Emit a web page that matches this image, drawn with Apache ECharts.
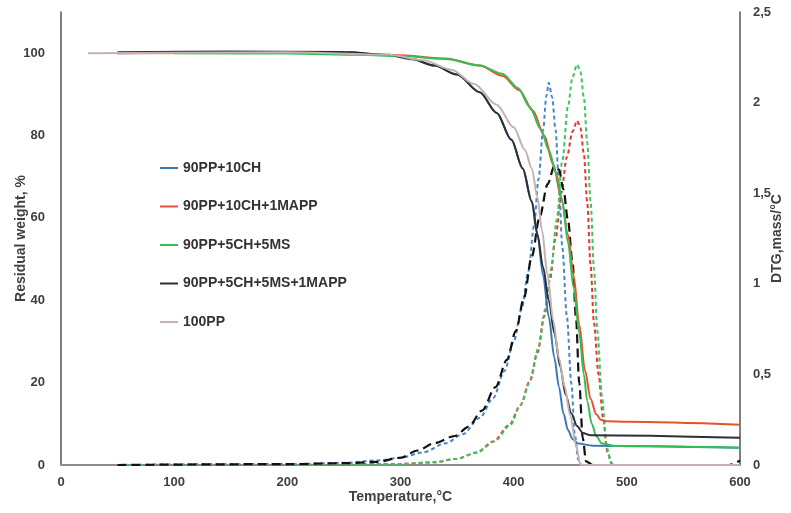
<!DOCTYPE html>
<html><head><meta charset="utf-8">
<script src="https://cdn.jsdelivr.net/npm/echarts@6/dist/echarts.min.js"></script>
<style>html,body{margin:0;padding:0;background:#fff}#c{width:791px;height:513px}</style>
</head><body><div id="c"></div>
<script>
const names = ['90PP+10CH','90PP+10CH+1MAPP','90PP+5CH+5MS','90PP+5CH+5MS+1MAPP','100PP'];
const xTicks = [0,100,200,300,400,500,600];
// TG curves [temperature °C, residual weight %]
const tgBlue = [[50,100],[150,100.2],[250,100.2],[290,99.5],[310,98.5],[330,97],[350,94.8],[370,90.5],[385,85.5],[398,79],[408,72],[416,64],[421,56],[426,46],[431,36],[436,26],[440,19],[444,12.5],[448,8.5],[452,6.3],[457,5.2],[470,4.7],[600,4.2]];
const tgRed = [[50,100],[200,100.1],[300,99.5],[340,98.7],[370,97],[390,94.5],[405,91],[417,86],[427,80],[435,73],[442,65],[448,56],[453,46],[458,34],[463,23],[468,16],[473,12.3],[477,11],[482,10.6],[500,10.5],[600,9.8]];
const tgGreen = [[100,100],[200,99.9],[264,99.6],[300,99.3],[340,98.6],[370,97],[390,95],[404,91.5],[414,87],[424,81.5],[431,76.5],[438,70.5],[443,64],[448,54],[453,43],[458,32],[462,22],[465,15.5],[469,10],[473,7],[478,5.2],[490,4.6],[600,4.2]];
const tgBlack = [[50,100.2],[150,100.4],[250,100.3],[290,99.6],[310,98.6],[330,97],[350,94.8],[370,90.5],[385,85.5],[398,79],[408,72],[416,64],[421,56],[426,48],[431,40],[436,32],[441,24],[446,17],[451,12.5],[456,9.5],[461,7.8],[468,7.2],[600,6.6]];
const tgGray = [[24,100],[100,100.1],[200,100.2],[290,99.6],[320,98.3],[345,96],[365,92.5],[385,87.5],[400,82],[410,76.5],[416,72],[421,65],[425,57],[430,46],[435,35],[440,26],[445,19],[450,12],[455,5],[459,0],[600,0]];
// DTG curves [temperature °C, DTG mass/°C]
const dtgBlue = [[50,0],[200,0.004],[250,0.012],[280,0.025],[300,0.04],[320,0.07],[340,0.12],[355,0.17],[370,0.26],[382,0.37],[392,0.52],[400,0.68],[407,0.86],[413,1.07],[418,1.32],[422,1.58],[426,1.85],[429,2.04],[431,2.11],[434,2.03],[437,1.85],[440,1.55],[443,1.2],[447,0.82],[451,0.45],[454,0.17],[457,0.03],[460,0],[600,0]];
const dtgRed = [[50,0],[250,0.003],[300,0.006],[330,0.015],[350,0.035],[367,0.068],[382,0.13],[396,0.22],[406,0.33],[414,0.46],[421,0.62],[427,0.82],[432,1.02],[437,1.25],[442,1.5],[447,1.7],[452,1.84],[456,1.9],[459,1.86],[462,1.72],[465,1.45],[468,1.1],[471,0.78],[475,0.5],[479,0.26],[483,0.07],[487,0.005],[490,0],[600,0]];
const dtgGreen = [[50,0],[300,0.005],[330,0.015],[350,0.035],[368,0.07],[383,0.13],[397,0.22],[406,0.33],[415,0.47],[422,0.65],[428,0.86],[433,1.08],[438,1.35],[443,1.68],[448,1.98],[452,2.14],[456,2.21],[459,2.17],[462,2.03],[465,1.78],[468,1.45],[471,1.08],[474,0.74],[478,0.38],[482,0.1],[486,0.01],[490,0],[600,0]];
const dtgBlack = [[50,0],[200,0.005],[250,0.01],[279,0.017],[300,0.04],[315,0.08],[330,0.12],[348,0.16],[360,0.21],[372,0.3],[384,0.43],[394,0.58],[402,0.74],[409,0.92],[416,1.15],[423,1.37],[430,1.55],[436,1.65],[440,1.63],[444,1.52],[448,1.35],[452,1.12],[455,0.82],[458,0.45],[461,0.15],[464,0.02],[470,0],[590,0],[600,0.025]];

const colors = ['#3b78b8','#e8512e','#33bf55','#2e2e36','#c4b2b2'];
const dashColors = ['#4a86c5','#e8342c','#3cc463','#111111'];
const tg = [tgBlue, tgRed, tgGreen, tgBlack, tgGray];
const dtg = [dtgBlue, dtgRed, dtgGreen, dtgBlack];

const font = 'Liberation Sans, Arial, sans-serif';
const tick = {color:'#404040', fontFamily:font, fontWeight:'bold', fontSize:13};
const title = {color:'#404040', fontFamily:font, fontWeight:'bold', fontSize:14};
const series = [];
dtg.forEach((d,i)=>{
  series.push({name:'DTG '+names[i], type:'line', yAxisIndex:1, data:d, symbol:'none', smooth:0.3, smoothMonotone:'x',
    lineStyle:{color:dashColors[i], width: i===3?2.2:2, type: i===3?[9,5]:[4,3]}, z:2, silent:true});
});
tg.forEach((d,i)=>{
  series.push({name:names[i], type:'line', yAxisIndex:0, data:d, symbol:'none', smooth:0.3, smoothMonotone:'x',
    itemStyle:{color:colors[i]}, lineStyle:{color:colors[i], width:2}, z:3, silent:true});
});

const chart = echarts.init(document.getElementById('c'), null, {renderer:'canvas'});
chart.setOption({
  animation:false,
  backgroundColor:'#fff',
  grid:{left:61, right:51, top:12, bottom:48, containLabel:false, outerBoundsMode:'none'},
  legend:{data:names, orient:'vertical', left:155, top:156, itemGap:24.5, itemWidth:18, itemHeight:10,
    textStyle:{color:'#333', fontFamily:font, fontWeight:'bold', fontSize:14}, icon:'path://M0,4 L18,4 L18,6 L0,6 Z'},
  xAxis:{type:'value', min:0, max:600, interval:100,
    name:'Temperature,°C', nameLocation:'middle', nameGap:25, nameMoveOverlap:false, nameTextStyle:title,
    axisLine:{lineStyle:{color:'#8c8c8c', width:2}}, axisTick:{show:false},
    axisLabel:Object.assign({margin:11}, tick), splitLine:{show:false}},
  yAxis:[
    {type:'value', min:0, max:110, interval:20, position:'left',
     name:'Residual weight, %', nameLocation:'middle', nameGap:33, nameRotate:90, nameMoveOverlap:false, nameTextStyle:title,
     axisLine:{show:true, lineStyle:{color:'#555', width:1.5}}, axisTick:{show:false},
     axisLabel:Object.assign({margin:16, showMaxLabel:false}, tick), splitLine:{show:false}},
    {type:'value', min:0, max:2.5, interval:0.5, position:'right',
     name:'DTG,mass/°C', nameLocation:'middle', nameGap:30, nameRotate:90, nameMoveOverlap:false, nameTextStyle:title,
     axisLine:{show:true, lineStyle:{color:'#555', width:1.5}}, axisTick:{show:false},
     axisLabel:Object.assign({margin:13, formatter:v=>String(v).replace('.',',')}, tick), splitLine:{show:false}}
  ],
  series:series
});
</script></body></html>
